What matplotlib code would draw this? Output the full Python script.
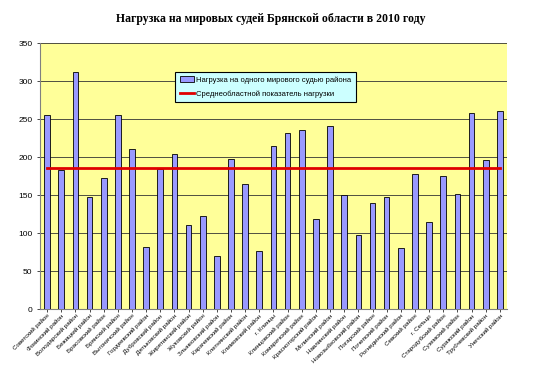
import matplotlib
matplotlib.use("Agg")
import matplotlib.pyplot as plt
import numpy as np

districts = [
    "Советский район", "Фокинский район", "Володарский район", "Бежицкий район",
    "Брасовский район", "Брянский район", "Выгоничский район", "Гордеевский район",
    "Дубровский район", "Дятьковский район", "Жирятинский район", "Жуковский район",
    "Злынковский район", "Карачевский район", "Клетнянский район", "Климовский район",
    "г. Клинцы", "Клинцовский район", "Комаричский район", "Красногорский район",
    "Мглинский район", "Навлинский район", "Новозыбковский район", "Погарский район",
    "Почепский район", "Рогнединский район", "Севский район", "г. Сельцо",
    "Стародубский район", "Суземский район", "Суражский район", "Трубчевский район",
    "Унечский район",
]
load = [255, 183, 312, 148, 172, 255, 211, 82, 184, 204, 110, 122, 70, 197, 164, 77,
        214, 232, 235, 119, 241, 150, 98, 140, 148, 81, 178, 114, 175, 152, 258, 196, 260]
region_avg = 186

plt.rcParams['font.family'] = ['Liberation Sans', 'DejaVu Sans']

fig = plt.figure(figsize=(5.41, 3.68), dpi=100)
ax = fig.add_axes([0.074, 0.160, 0.863, 0.723])
ax.set_facecolor('#FFFF99')

x = np.arange(len(districts))
bars = ax.bar(x, load, width=0.4, color='#9999FF', edgecolor='black', linewidth=0.6,
              zorder=3, label='Нагрузка на одного мирового судью района')
avg_line, = ax.plot([x[0], x[-1]], [region_avg, region_avg], color='#E00000', linewidth=2,
                    zorder=4, label='Среднеобластной показатель нагрузки')

ax.set_xlim(-0.5, len(districts) - 0.5)
ax.set_ylim(0, 350)
ax.set_yticks(range(0, 351, 50))
ax.yaxis.grid(True, color='#333333', linewidth=0.6, zorder=1)
ax.set_axisbelow(True)

ax.set_xticks(x)
ax.set_xticklabels(districts, rotation=45, ha='right', rotation_mode='anchor', fontsize=4.5)
ax.tick_params(axis='x', length=2, width=0.5, pad=1)
ax.tick_params(axis='y', labelsize=6, length=2, width=0.5)

for side in ['top', 'right']:
    ax.spines[side].set_visible(False)
ax.spines['left'].set_color('#808080')
ax.spines['bottom'].set_color('#808080')

leg = ax.legend(handles=[bars, avg_line], loc='upper left', bbox_to_anchor=(0.29, 0.893),
                fontsize=5.5, frameon=True, fancybox=False, edgecolor='black',
                facecolor='#CCFFFF', framealpha=1, handlelength=1.8, handletextpad=0.3,
                borderpad=0.6, labelspacing=0.9, borderaxespad=0)
leg.get_frame().set_linewidth(0.8)

fig.suptitle('Нагрузка на мировых судей Брянской области в 2010 году',
             fontsize=8.5, fontweight='bold', family='Liberation Serif', y=0.965)

fig.savefig('out.png', dpi=100)
